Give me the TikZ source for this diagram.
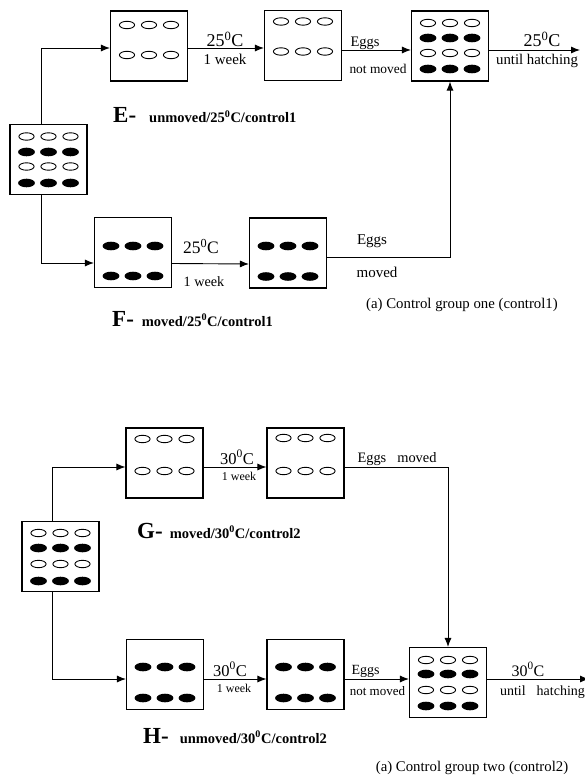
\documentclass[tikz,border=0pt]{standalone}
\usepackage{fontspec}
\setmainfont{Liberation Serif}
\usetikzlibrary{positioning,calc}
\usetikzlibrary{arrows.meta}
\tikzset{
  tray/.style={draw=black,line width=1.1pt,fill=white,minimum width=77pt,minimum height=70pt,inner sep=0pt},
  flow/.style={draw=black,line width=0.9pt,-{Latex[length=9pt,width=7pt]}},
  lab/.style={anchor=base,inner sep=0pt},
}
\tikzset{openegg/.style={draw=black,line width=0.9pt,x radius=7.6pt,y radius=3.7pt}, fullegg/.style={fill=black,x radius=8.4pt,y radius=4.3pt},
  tag/.style={anchor=base west,inner sep=0pt,font=\fontsize{14.5}{14.5}\selectfont\bfseries}}
\newcommand{\eggrow}[3]{\foreach \dx in {-22,0,22}{\path[#3] ($(#1.center)+(\dx,#2)$) ellipse;}}
\newcommand{\bigtag}[1]{{\fontsize{23}{23}\selectfont #1}}

\begin{document}
\begin{tikzpicture}[x=1pt,y=-1pt]
\useasboundingbox (0,0) rectangle (585,775);
% control group one
\node[tray] (I1) at (48.5,159.5) {};
\node[tray] (E1) at (149,46) {};
\node[tray] (E2) at (303,45.5) {};
\node[tray] (E3) at (450,46) {};
\node[tray] (F1) at (133,252.5) {};
\node[tray] (F2) at (288,253) {};
% control group two
\node[tray] (I2) at (60.5,556.5) {};
\node[tray] (G1) at (164.5,463) {};
\node[tray] (G2) at (305.5,463) {};
\node[tray] (H1) at (165,674.5) {};
\node[tray] (H2) at (305.5,674.5) {};
\node[tray] (H3) at (448,682.5) {};
\coordinate (E3out) at (580,50);
\coordinate (H3out) at (589,679);
% eggs
\eggrow{I1}{-23}{openegg} \eggrow{I1}{-7.5}{fullegg} \eggrow{I1}{7}{openegg} \eggrow{I1}{23.5}{fullegg}
\eggrow{E1}{-21}{openegg} \eggrow{E1}{9}{openegg}
\eggrow{E2}{-24}{openegg} \eggrow{E2}{6}{openegg}
\eggrow{E3}{-23}{openegg} \eggrow{E3}{-8}{fullegg} \eggrow{E3}{7}{openegg} \eggrow{E3}{23}{fullegg}
\eggrow{F1}{-6.5}{fullegg} \eggrow{F1}{23.5}{fullegg}
\eggrow{F2}{-7}{fullegg} \eggrow{F2}{23.5}{fullegg}
\eggrow{I2}{-23.5}{openegg} \eggrow{I2}{-8.5}{fullegg} \eggrow{I2}{7.5}{openegg} \eggrow{I2}{24.5}{fullegg}
\eggrow{G1}{-24}{openegg} \eggrow{G1}{8}{openegg}
\eggrow{G2}{-25}{openegg} \eggrow{G2}{8}{openegg}
\eggrow{H1}{-7.5}{fullegg} \eggrow{H1}{23.5}{fullegg}
\eggrow{H2}{-7.5}{fullegg} \eggrow{H2}{23.5}{fullegg}
\eggrow{H3}{-22.5}{openegg} \eggrow{H3}{-8.5}{fullegg} \eggrow{H3}{7.5}{openegg} \eggrow{H3}{23.5}{fullegg}
% connectors
\draw[flow] ($(I1.north)+(-7.5,0)$) |- ($(E1.west)+(0,2)$);
\draw[flow] ($(E1.east)+(0,2)$) -- ($(E2.west)+(0,2.5)$);
\draw[flow] ($(E2.east)+(0,4.5)$) -- ($(E3.west)+(0,4)$);
\draw[flow] ($(E3.east)+(0,4)$) -- (E3out);
\draw[flow] ($(I1.south)+(-7.5,0)$) |- ($(F1.west)+(0,10.5)$);
\draw[flow] ($(F1.east)+(0,11)$) -- ($(F2.west)+(0,11)$);
\draw[flow] ($(F2.east)+(0,4)$) -| (E3.south);
\draw[flow] ($(I2.north)+(-8.5,0)$) |- ($(G1.west)+(0,4)$);
\draw[flow] ($(G1.east)+(0,4)$) -- ($(G2.west)+(0,4)$);
\draw[flow] ($(G2.east)+(0,4)$) -| (H3.north);
\draw[flow] ($(I2.south)+(-8.5,0)$) |- ($(H1.west)+(0,4.5)$);
\draw[flow] ($(H1.east)+(0,4.5)$) -- ($(H2.west)+(0,4.5)$);
\draw[flow] ($(H2.east)+(0,4.5)$) -- ($(H3.west)+(0,-3.5)$);
\draw[flow] ($(H3.east)+(0,-3.5)$) -- (H3out);
% texts
\node[lab,font=\fontsize{18}{18}\selectfont] (tE1) at (225,47) {25\textsuperscript{0}C};
\node[lab,font=\fontsize{15}{15}\selectfont] (wE1) at (225,65) {1 week};
\node[lab,font=\fontsize{14.5}{14.5}\selectfont] (gE2) at (365,47) {Eggs};
\node[lab,font=\fontsize{13.4}{13.4}\selectfont] (nE2) at (378,74) {not moved};
\node[lab,font=\fontsize{18}{18}\selectfont] (tE3) at (542,47) {25\textsuperscript{0}C};
\node[lab,font=\fontsize{14.8}{14.8}\selectfont] (hE3) at (537,65) {until hatching};
\node[tag] (Etag) at (113,123) {\bigtag{E-}\hspace{13pt}unmoved/25\textsuperscript{0}C/control1};
\node[lab,font=\fontsize{17.5}{17.5}\selectfont] (tF1) at (201,254) {25\textsuperscript{0}C};
\node[lab,font=\fontsize{14.2}{14.2}\selectfont] (wF1) at (204,287) {1 week};
\node[lab,font=\fontsize{15}{15}\selectfont] (gF2) at (372,245) {Eggs};
\node[lab,font=\fontsize{15}{15}\selectfont] (mF2) at (377,277) {moved};
\node[tag] (Ftag) at (112,326) {\bigtag{F-}\hspace{8pt}moved/25\textsuperscript{0}C/control1};
\node[lab,font=\fontsize{14.8}{14.8}\selectfont] (cap1) at (462,308) {(a) Control group one (control1)};
\node[lab,font=\fontsize{16.5}{16.5}\selectfont] (tG1) at (237,464) {30\textsuperscript{0}C};
\node[lab,font=\fontsize{12}{12}\selectfont] (wG1) at (239,480) {1 week};
\node[lab,font=\fontsize{14.4}{14.4}\selectfont] (gG2) at (397,462) {Eggs\hspace{11pt}moved};
\node[tag] (Gtag) at (137,538) {\bigtag{G-}\hspace{7pt}moved/30\textsuperscript{0}C/control2};
\node[lab,font=\fontsize{16.5}{16.5}\selectfont] (tH1) at (230,676) {30\textsuperscript{0}C};
\node[lab,font=\fontsize{12}{12}\selectfont] (wH1) at (234,692) {1 week};
\node[lab,font=\fontsize{14}{14}\selectfont] (gH2) at (365.5,674) {Eggs};
\node[lab,font=\fontsize{13}{13}\selectfont] (nH2) at (377.5,695) {not moved};
\node[lab,font=\fontsize{16}{16}\selectfont] (tH3) at (528,676) {30\textsuperscript{0}C};
\node[lab,font=\fontsize{14}{14}\selectfont] (hH3) at (542.5,695) {until\hspace{11pt}hatching};
\node[tag] (Htag) at (143,743) {\bigtag{H-}\hspace{11pt}unmoved/30\textsuperscript{0}C/control2};
\node[lab,font=\fontsize{14.8}{14.8}\selectfont] (cap2) at (472,771) {(a) Control group two (control2)};
\end{tikzpicture}
\end{document}
